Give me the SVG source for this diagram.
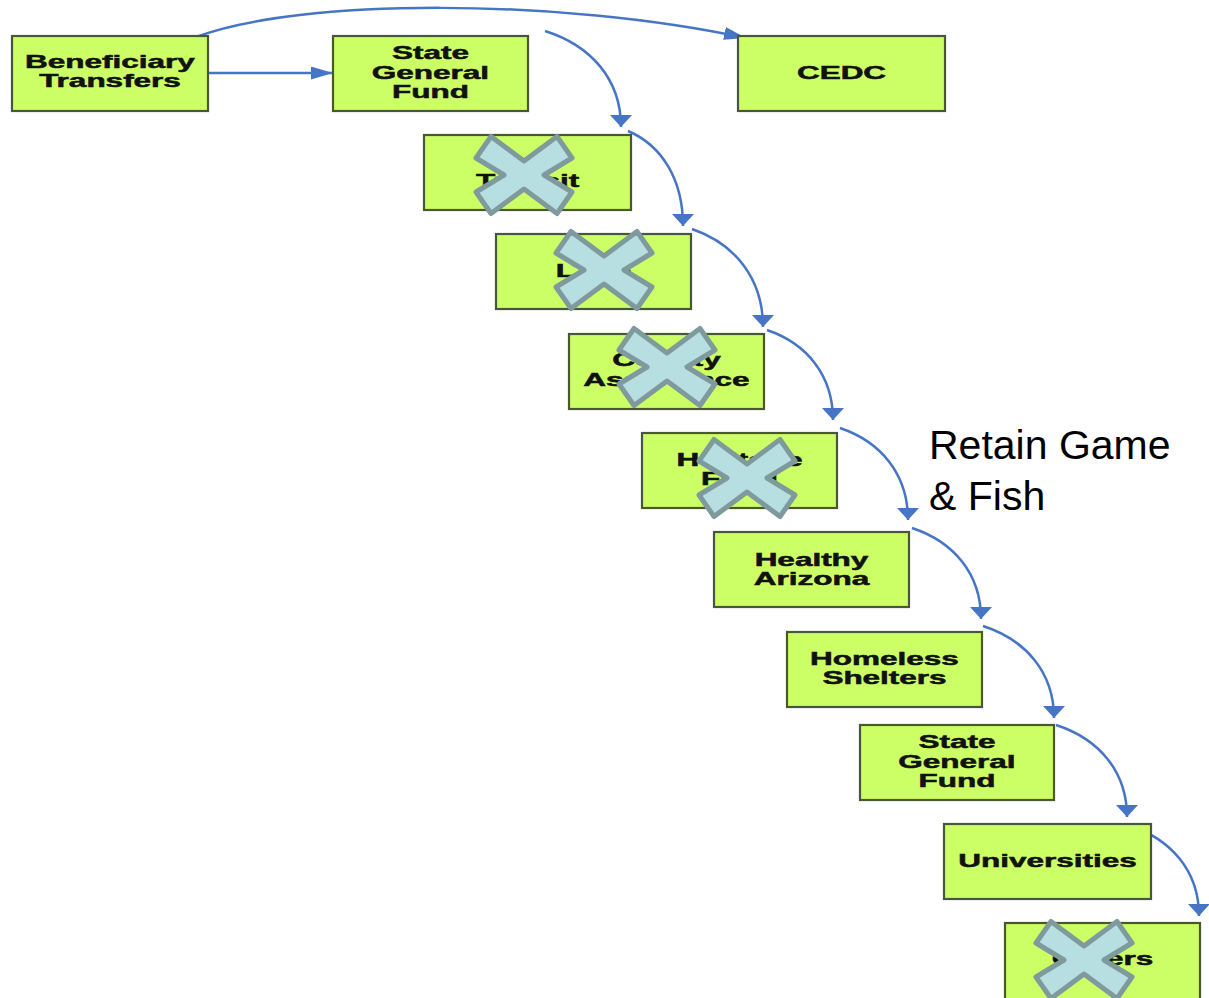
<svg xmlns="http://www.w3.org/2000/svg" xmlns:xlink="http://www.w3.org/1999/xlink" width="1209" height="998" viewBox="0 0 1209 998">
<style>
.box{fill:#CCFF66;stroke:#4A5734;stroke-width:2.2}
.t{font-family:"Liberation Sans",Arial,sans-serif;font-weight:bold;font-size:18px;text-anchor:middle;fill:#111;stroke:#111;stroke-width:0.5}
.c{fill:none;stroke:#4775C6;stroke-width:2.5}
.x{fill:#B7DEE0;stroke:#7F9A9D;stroke-width:5;stroke-linejoin:round}
.note{font-family:"Liberation Sans",Arial,sans-serif;font-size:41px;fill:#000}
</style>
<defs>
<marker id="ah" markerUnits="userSpaceOnUse" viewBox="-22 -6.5 22 13" refX="0" refY="0" markerWidth="22" markerHeight="13" orient="auto">
<path d="M-22,-6.5 L0,0 L-22,6.5 z" fill="#4775C6"/>
</marker>
<marker id="av" markerUnits="userSpaceOnUse" viewBox="-12 -11 12 22" refX="0" refY="0" markerWidth="12" markerHeight="22" orient="auto">
<path d="M-12,-11 L0,0 L-12,11 z" fill="#4775C6"/>
</marker>
<path id="cross" class="x" d="M-48,-17 L-33,-38.5 L0,-14 L33,-38.5 L48,-17 L20,0 L48,17 L33,38.5 L0,14 L-33,38.5 L-48,17 L-20,0 z"/>
</defs>
<rect width="1209" height="998" fill="#fff"/>

<g id="connectors">
<path class="c" d="M196,37 C300,-2 560,-2 746,38" marker-end="url(#ah)"/>
<path class="c" d="M208,73 L333,73" marker-end="url(#ah)"/>
<path class="c" d="M545,31 C590.6,45.4 621,79 621,127" marker-end="url(#av)"/>
<path class="c" d="M628,131 C661,145 683,178.5 683,226" marker-end="url(#av)"/>
<path class="c" d="M692,229 C734.6,243.7 763,278 763,327" marker-end="url(#av)"/>
<path class="c" d="M767,330 C806.6,343.5 833,375 833,420" marker-end="url(#av)"/>
<path class="c" d="M840,428 C880.8,441.8 908,474 908,520" marker-end="url(#av)"/>
<path class="c" d="M912,528 C953.4,541.7 981,573.5 981,619" marker-end="url(#av)"/>
<path class="c" d="M983,626 C1025.6,639.8 1054,672 1054,718" marker-end="url(#av)"/>
<path class="c" d="M1056,725 C1098.6,738.8 1127,771 1127,817" marker-end="url(#av)"/>
<path class="c" d="M1128,825 C1170.6,838.7 1199,870.5 1199,916" marker-end="url(#av)"/>
</g>

<g id="n-beneficiary">
<rect class="box" x="12" y="36" width="196" height="75"/>
<text class="t" transform="translate(110 0) scale(1.75 1)"><tspan x="0" y="68.5">Beneficiary</tspan><tspan x="0" y="87.5">Transfers</tspan></text>
</g>
<g id="n-sgf1">
<rect class="box" x="333" y="36" width="195" height="75"/>
<text class="t" transform="translate(430.5 0) scale(1.75 1)"><tspan x="0" y="59.5">State</tspan><tspan x="0" y="79">General</tspan><tspan x="0" y="98.5">Fund</tspan></text>
</g>
<g id="n-cedc">
<rect class="box" x="738" y="36" width="207" height="75"/>
<text class="t" transform="translate(841.5 0) scale(1.75 1)"><tspan x="0" y="79.5">CEDC</tspan></text>
</g>
<g id="n-transit">
<rect class="box" x="424" y="135" width="207" height="75"/>
<text class="t" transform="translate(527.5 0) scale(1.75 1)"><tspan x="0" y="187">Transit</tspan></text>
<use xlink:href="#cross" x="524" y="175"/>
</g>
<g id="n-ltaf">
<rect class="box" x="496" y="234" width="195" height="75"/>
<text class="t" transform="translate(593.5 0) scale(1.75 1)"><tspan x="0" y="277.5">LTAF</tspan></text>
<use xlink:href="#cross" x="604" y="270"/>
</g>
<g id="n-county">
<rect class="box" x="569" y="334" width="195" height="75"/>
<text class="t" transform="translate(666.5 0) scale(1.75 1)"><tspan x="0" y="366.5">County</tspan><tspan x="0" y="386">Assistance</tspan></text>
<use xlink:href="#cross" x="667" y="367"/>
</g>
<g id="n-heritage">
<rect class="box" x="642" y="433" width="195" height="75"/>
<text class="t" transform="translate(739.5 0) scale(1.75 1)"><tspan x="0" y="466">Heritage</tspan><tspan x="0" y="485">Fund</tspan></text>
<use xlink:href="#cross" x="747" y="478"/>
</g>
<g id="n-healthy">
<rect class="box" x="714" y="532" width="195" height="75"/>
<text class="t" transform="translate(811.5 0) scale(1.75 1)"><tspan x="0" y="566">Healthy</tspan><tspan x="0" y="585">Arizona</tspan></text>
</g>
<g id="n-homeless">
<rect class="box" x="787" y="632" width="195" height="75"/>
<text class="t" transform="translate(884.5 0) scale(1.75 1)"><tspan x="0" y="665">Homeless</tspan><tspan x="0" y="684">Shelters</tspan></text>
</g>
<g id="n-sgf2">
<rect class="box" x="860" y="725" width="194" height="75"/>
<text class="t" transform="translate(957 0) scale(1.75 1)"><tspan x="0" y="748.5">State</tspan><tspan x="0" y="768">General</tspan><tspan x="0" y="787.5">Fund</tspan></text>
</g>
<g id="n-universities">
<rect class="box" x="944" y="824" width="207" height="75"/>
<text class="t" transform="translate(1047.5 0) scale(1.75 1)"><tspan x="0" y="867">Universities</tspan></text>
</g>
<g id="n-others">
<rect class="box" x="1005" y="923" width="195" height="80"/>
<text class="t" transform="translate(1102.5 0) scale(1.75 1)"><tspan x="0" y="965">Others</tspan></text>
<use xlink:href="#cross" x="1084" y="960"/>
</g>

<g id="note">
<text class="note"><tspan x="929" y="459">Retain Game</tspan><tspan x="929" y="510">&amp; Fish</tspan></text>
</g>
</svg>
